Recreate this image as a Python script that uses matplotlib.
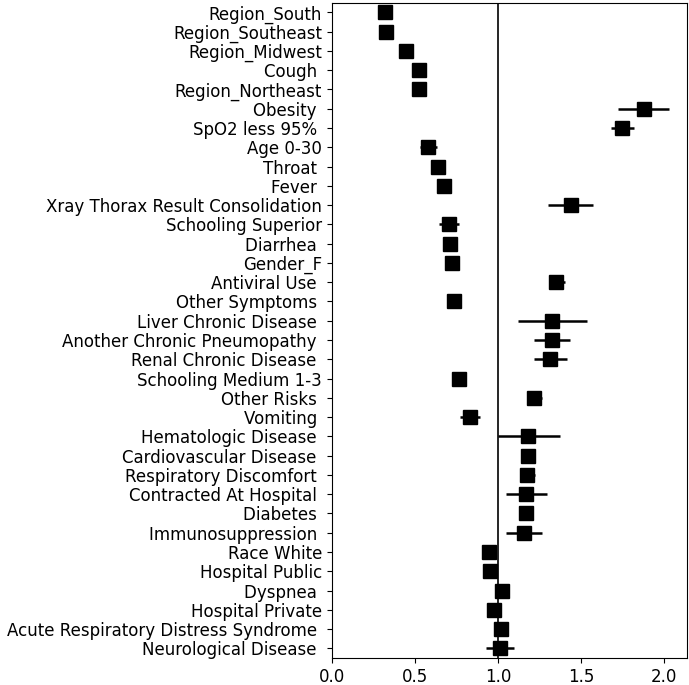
import numpy as np
import matplotlib

matplotlib.use("Agg")
import matplotlib.pyplot as plt

labels = [
    "Region_South", "Region_Southeast", "Region_Midwest", "Cough ", "Region_Northeast",
    "Obesity ", "SpO2 less 95% ", "Age 0-30", "Throat ", "Fever ",
    "Xray Thorax Result Consolidation", "Schooling Superior", "Diarrhea ", "Gender_F",
    "Antiviral Use ", "Other Symptoms ", "Liver Chronic Disease ",
    "Another Chronic Pneumopathy ", "Renal Chronic Disease ", "Schooling Medium 1-3",
    "Other Risks ", "Vomiting ", "Hematologic Disease ", "Cardiovascular Disease ",
    "Respiratory Discomfort ", "Contracted At Hospital ", "Diabetes ",
    "Immunosuppression ", "Race White", "Hospital Public", "Dyspnea ",
    "Hospital Private", "Acute Respiratory Distress Syndrome ", "Neurological Disease ",
]
odds = [
    0.323, 0.326, 0.447, 0.525, 0.527,
    1.877, 1.747, 0.579, 0.640, 0.678,
    1.438, 0.706, 0.714, 0.726,
    1.352, 0.736, 1.327,
    1.323, 1.313, 0.766,
    1.217, 0.832, 1.183, 1.179,
    1.177, 1.171, 1.167,
    1.157, 0.945, 0.954, 1.025,
    0.978, 1.017, 1.011,
]
ci_low = [
    0.31, 0.31, 0.43, 0.51, 0.51,
    1.725, 1.681, 0.531, 0.625, 0.663,
    1.303, 0.644, 0.698, 0.711,
    1.307, 0.720, 1.121,
    1.215, 1.215, 0.722,
    1.173, 0.772, 0.999, 1.137,
    1.131, 1.049, 1.125,
    1.049, 0.908, 0.913, 0.984,
    0.940, 0.977, 0.928,
]
ci_high = [
    0.335, 0.34, 0.47, 0.54, 0.545,
    2.030, 1.821, 0.632, 0.655, 0.693,
    1.572, 0.768, 0.730, 0.741,
    1.403, 0.752, 1.538,
    1.432, 1.416, 0.810,
    1.264, 0.894, 1.376, 1.221,
    1.223, 1.294, 1.213,
    1.267, 0.985, 0.995, 1.067,
    1.018, 1.057, 1.095,
]


def main() -> None:
    odds_arr = np.array(odds)
    err = np.vstack([odds_arr - np.array(ci_low), np.array(ci_high) - odds_arr])
    y = np.arange(len(labels))[::-1]

    fig = plt.figure(figsize=(6.89, 6.85), dpi=100)
    ax = fig.add_axes([0.4815, 0.0394, 0.5152, 0.9566])
    ax.axvline(1.0, color="black", linewidth=1.2, zorder=1)
    ax.errorbar(odds_arr, y, xerr=err, fmt="s", color="black", ecolor="black",
                markersize=9.5, elinewidth=1.8, capsize=0, zorder=3)
    ax.set_yticks(y)
    ax.set_yticklabels(labels, fontsize=12)
    ax.set_ylim(-0.5, len(labels) - 0.5)
    ax.set_xlim(0.0, 2.137)
    ax.set_xticks([0.0, 0.5, 1.0, 1.5, 2.0])
    ax.tick_params(axis="x", labelsize=12)
    fig.savefig("out.png", dpi=100)
    plt.close(fig)


if __name__ == "__main__":
    main()
